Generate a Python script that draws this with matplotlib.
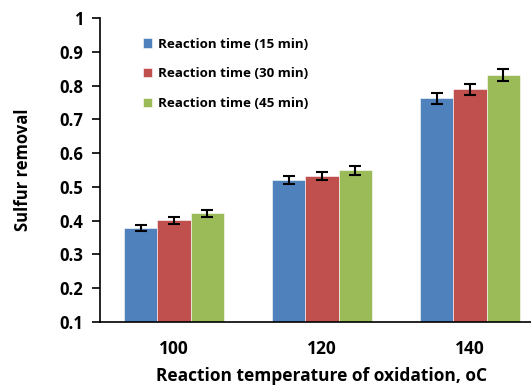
import matplotlib.pyplot as plt
import numpy as np

temperatures = ["100", "120", "140"]
series_labels = ["Reaction time (15 min)", "Reaction time (30 min)", "Reaction time (45 min)"]
removal_15 = [0.377, 0.520, 0.762]
removal_30 = [0.401, 0.532, 0.789]
removal_45 = [0.422, 0.549, 0.831]
err_15 = [0.009, 0.012, 0.016]
err_30 = [0.010, 0.012, 0.017]
err_45 = [0.010, 0.013, 0.018]
colors = ["#4F81BD", "#C0504D", "#9BBB59"]

plt.rcParams["font.family"] = ["Open Sans", "DejaVu Sans"]

fig = plt.figure(figsize=(5.31, 3.87), dpi=100)
ax = fig.add_axes([100 / 531, 1 - 322 / 387, 444 / 531, (322 - 18) / 387])

x = np.arange(len(temperatures))
width = 0.223
for i, (vals, errs) in enumerate(zip([removal_15, removal_30, removal_45],
                                     [err_15, err_30, err_45])):
    ax.bar(x + (i - 1) * width, vals, width, color=colors[i], label=series_labels[i],
           edgecolor="white", linewidth=0.4)
    ax.errorbar(x + (i - 1) * width, vals, yerr=errs, fmt="none", ecolor="black",
                elinewidth=1.5, capsize=4, capthick=1.5)

ax.set_xlim(-0.5, 2.5)
ax.set_ylim(0.1, 1.0)
ax.set_yticks(np.arange(0.1, 1.01, 0.1))
ax.set_yticklabels(["0.1", "0.2", "0.3", "0.4", "0.5", "0.6", "0.7", "0.8", "0.9", "1"])
ax.set_xticks(x)
ax.set_xticklabels(temperatures)
ax.tick_params(axis="x", length=0, pad=13, labelsize=12.5)
ax.tick_params(axis="y", length=6, width=1.2, direction="out", labelsize=12, pad=6)
for lab in ax.get_xticklabels() + ax.get_yticklabels():
    lab.set_fontweight("bold")

ax.spines["top"].set_visible(False)
ax.spines["right"].set_visible(False)
ax.spines["left"].set_linewidth(1.2)
ax.spines["bottom"].set_linewidth(1.2)

ax.set_xlabel("Reaction temperature of oxidation, oC", fontsize=12.5, fontweight="bold")
ax.xaxis.set_label_coords(0.5, -0.148)
ax.set_ylabel("Sulfur removal", fontsize=12, fontweight="bold", labelpad=20)

leg = ax.legend(loc="upper left", bbox_to_anchor=(0.07, 0.975), frameon=False,
                handlelength=0.7, handleheight=0.7, handletextpad=0.4,
                labelspacing=1.25, prop={"size": 9.6, "weight": "bold"})

fig.savefig("out.png", dpi=100)
